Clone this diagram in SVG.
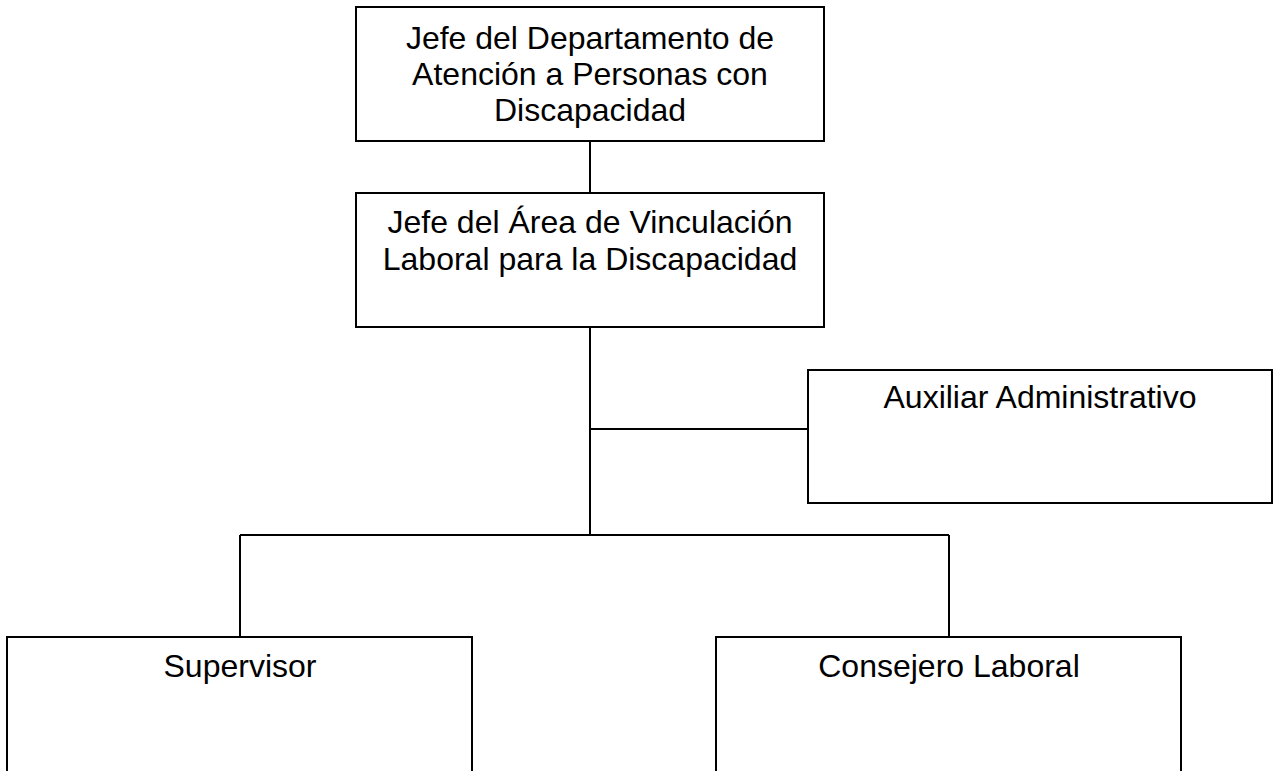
<svg xmlns="http://www.w3.org/2000/svg" width="1276" height="771" viewBox="0 0 1276 771">
<style>
.box{fill:#fff;stroke:#000;stroke-width:2}
.t{font-family:"Liberation Sans",Arial,sans-serif;font-size:32px;fill:#000;text-anchor:middle}
.c{stroke:#000;stroke-width:2;fill:none}
</style>
<rect width="1276" height="771" fill="#fff"/>
<g id="connectors">
<line class="c" x1="590" y1="141" x2="590" y2="193"/>
<line class="c" x1="590" y1="327" x2="590" y2="535"/>
<line class="c" x1="590" y1="429" x2="808" y2="429"/>
<line class="c" x1="240" y1="535" x2="949" y2="535"/>
<line class="c" x1="240" y1="535" x2="240" y2="637"/>
<line class="c" x1="949" y1="535" x2="949" y2="637"/>
</g>
<g id="jefe-departamento">
<rect class="box" x="356" y="7" width="468" height="134"/>
<text class="t" x="590" y="49">Jefe del Departamento de</text>
<text class="t" x="590" y="85">Atención a Personas con</text>
<text class="t" x="590" y="121">Discapacidad</text>
</g>
<g id="jefe-area">
<rect class="box" x="356" y="193" width="468" height="134"/>
<text class="t" x="590" y="233">Jefe del Área de Vinculación</text>
<text class="t" x="590" y="270">Laboral para la Discapacidad</text>
</g>
<g id="auxiliar">
<rect class="box" x="808" y="370" width="464" height="133"/>
<text class="t" x="1040" y="408">Auxiliar Administrativo</text>
</g>
<g id="supervisor">
<rect class="box" x="7" y="637" width="465" height="160"/>
<text class="t" x="240" y="677">Supervisor</text>
</g>
<g id="consejero">
<rect class="box" x="716" y="637" width="465" height="160"/>
<text class="t" x="949" y="677">Consejero Laboral</text>
</g>
</svg>
